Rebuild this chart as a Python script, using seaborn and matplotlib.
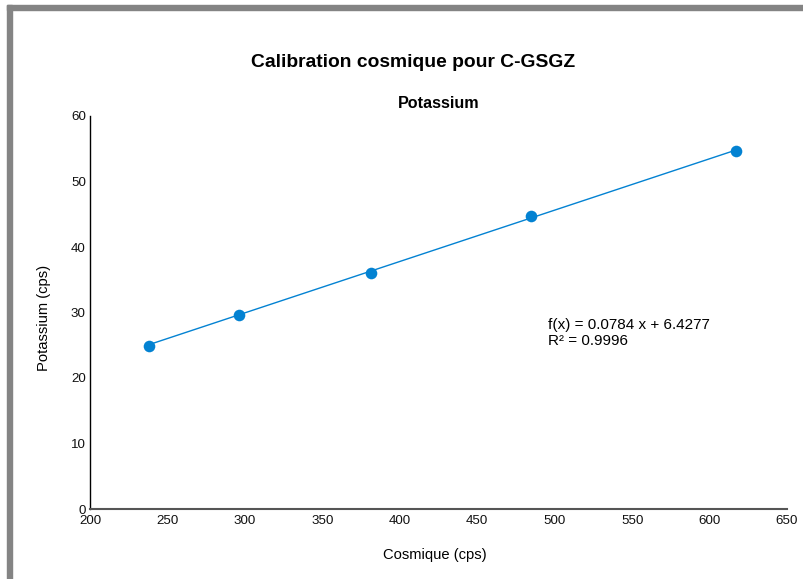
import matplotlib
matplotlib.use("Agg")
import matplotlib.pyplot as plt
import seaborn as sns
import pandas as pd
from matplotlib.patches import Rectangle

# Calibration data
cosmique = [238.1, 296.2, 381.5, 484.9, 617.3]
potassium = [24.9, 29.6, 36.0, 44.7, 54.6]
slope = 0.0784
intercept = 6.4277
r2 = 0.9996
x_ticks = [200, 250, 300, 350, 400, 450, 500, 550, 600, 650]
y_ticks = [0, 10, 20, 30, 40, 50, 60]

sns.set_theme(style="white")
plt.rcParams["font.family"] = ["Liberation Sans", "DejaVu Sans"]
plt.rcParams["text.color"] = "black"

blue = "#0382d2"

fig = plt.figure(figsize=(8.04, 5.79), dpi=100)
ax = fig.add_axes([90 / 804, 1 - 509 / 579, (787 - 90) / 804, (509 - 116) / 579])

df = pd.DataFrame({"Cosmique (cps)": cosmique, "Potassium (cps)": potassium})
x_line = [min(cosmique), max(cosmique)]
fit = pd.DataFrame({"x": x_line, "y": [slope * v + intercept for v in x_line]})

sns.lineplot(data=fit, x="x", y="y", ax=ax, color=blue, linewidth=1.0)
sns.scatterplot(data=df, x="Cosmique (cps)", y="Potassium (cps)", ax=ax,
                color=blue, s=70, edgecolor=blue, linewidth=0, zorder=3)

ax.set_xlim(200, 650)
ax.set_ylim(0, 60)
ax.set_xticks(x_ticks)
ax.set_yticks(y_ticks)
ax.tick_params(axis="both", length=0, labelsize=9.6, colors="#111111")
ax.tick_params(axis="x", pad=4.5)
ax.tick_params(axis="y", pad=3)

for side in ["top", "right"]:
    ax.spines[side].set_visible(False)
ax.spines["left"].set_color("black")
ax.spines["left"].set_linewidth(1.0)
ax.spines["bottom"].set_color("#555555")
ax.spines["bottom"].set_linewidth(1.5)

ax.set_xlabel("Cosmique (cps)", fontsize=10.6, color="black")
ax.set_ylabel("Potassium (cps)", fontsize=10.6, color="black")
ax.xaxis.set_label_coords((435 - 90) / 697, -(548 - 509) / 393)
ax.yaxis.set_label_coords(-(90 - 51) / 697, (509 - 318) / 393)

ax.set_title("Potassium", fontsize=11.6, fontweight="bold", pad=6, color="black")
fig.text(413 / 804, 1 - 62.5 / 579, "Calibration cosmique pour C-GSGZ",
         ha="center", va="center", fontsize=13.9, fontweight="bold", color="black")

ax.text(200 + (548 - 90) / 1.549, (509 - 333) / 6.55,
        f"f(x) = {slope} x + {intercept}\nR² = {r2}",
        ha="left", va="center", fontsize=11.0, color="black", linespacing=1.12,
        transform=ax.transData)

# Gray frame along the top and left edges
fig.patches.append(Rectangle((7 / 804, 0), 5 / 804, 1 - 5 / 579,
                             transform=fig.transFigure, color="#848484", zorder=0))
fig.patches.append(Rectangle((7 / 804, 1 - 10 / 579), 1, 5 / 579,
                             transform=fig.transFigure, color="#848484", zorder=0))

fig.savefig("out.png", dpi=100)
